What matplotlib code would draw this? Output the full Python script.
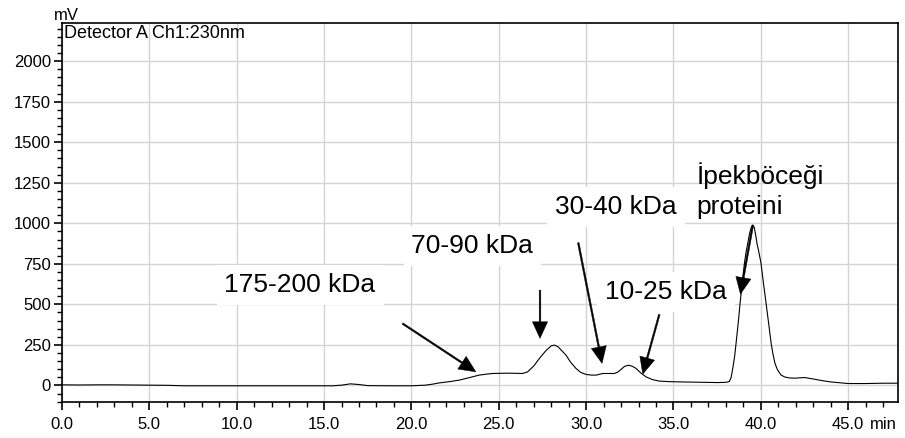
import matplotlib.pyplot as plt
from matplotlib.ticker import MultipleLocator, FixedLocator
import matplotlib.transforms as mtransforms

plt.rcParams['font.family'] = ['Liberation Sans', 'DejaVu Sans']

# chromatogram (time in min, signal in mV)
time = [0.0, 1.0, 2.0, 3.0, 4.0, 5.0, 6.0, 7.0, 8.0, 10.0, 12.0, 14.0, 15.5,
        16.0, 16.5, 17.0, 17.5, 19.0, 20.0, 20.8, 21.2, 21.6, 22.2, 22.74,
        23.3, 23.88, 24.3, 24.65, 25.5, 26.36, 26.65, 27.0, 27.32, 27.7,
        28.0, 28.18, 28.4, 28.6, 28.85, 29.1, 29.42, 29.7, 30.0, 30.3,
        30.57, 30.8, 30.95, 31.3, 31.62, 31.8, 32.0, 32.2, 32.43, 32.65,
        32.86, 33.1, 33.43, 33.8, 34.19, 34.7, 35.34, 36.5, 37.5, 37.9,
        38.1, 38.2, 38.3, 38.4, 38.5, 38.58, 38.7, 38.81, 38.93, 39.06,
        39.15, 39.25, 39.35, 39.45, 39.54, 39.62, 39.7, 39.78, 39.9, 40.01,
        40.15, 40.3, 40.45, 40.59, 40.7, 40.8, 40.9, 40.97, 41.15, 41.35,
        41.6, 41.9, 42.2, 42.5, 43.0, 43.5, 44.0, 45.0, 46.0, 47.0, 47.85]
signal = [4, 3, 4, 4, 3, 2, 1, -2, -2, -2, -2, -2, -2,
          2, 10, 6, -1, -2, -2, 2, 8, 16, 24, 33,
          48, 64, 70, 74, 76, 74, 84, 120, 166, 215,
          244, 249, 238, 215, 187, 145, 105, 80, 68, 64,
          64, 70, 74, 74, 74, 82, 99, 118, 125, 118,
          105, 80, 53, 36, 27, 24, 22, 20, 18, 19,
          21, 25, 50, 110, 180, 259, 380, 506, 630, 753,
          820, 876, 935, 975, 989, 975, 930, 876, 815, 753,
          630, 506, 380, 259, 190, 140, 110, 94, 65, 53,
          47, 45, 47, 49, 40, 30, 22, 12, 12, 14, 14]

# annotations: text position (baseline) and arrow start / tip
labels = ['175-200 kDa', '70-90 kDa', '30-40 kDa', '10-25 kDa']
label_x = [9.3, 20.0, 28.24, 31.1]
label_y = [578, 818, 1055, 531]
peak_name = ['İpekböceği', 'proteini']
peak_name_x = [36.3, 36.3]
peak_name_y = [1242, 1057]

arrow_from = [(19.49, 382), (27.36, 588), (29.55, 880), (34.19, 438), (39.54, 989)]
arrow_to = [(23.69, 84), (27.36, 290), (30.91, 136), (33.24, 70), (38.83, 563)]

xticks = [0, 5, 10, 15, 20, 25, 30, 35, 40, 45]
xtick_labels = ['0.0', '5.0', '10.0', '15.0', '20.0', '25.0', '30.0', '35.0', '40.0', '45.0']

fig = plt.figure(figsize=(9.05, 4.38), dpi=100)
ax = fig.add_axes([62 / 905, 36.3 / 438, 836 / 905, 378.7 / 438])

ax.plot(time, signal, color='black', lw=0.8, zorder=2)

ax.set_xlim(0, 47.85)
ax.set_ylim(-100, 2235)

ax.xaxis.set_major_locator(FixedLocator(xticks))
ax.set_xticklabels(xtick_labels)
ax.xaxis.set_minor_locator(MultipleLocator(1))
ax.yaxis.set_major_locator(MultipleLocator(250))
ax.yaxis.set_minor_locator(MultipleLocator(50))
ax.set_yticks(range(0, 2001, 250))

ax.tick_params(which='major', direction='out', length=6, width=1.2, labelsize=12, colors='black')
ax.tick_params(axis='x', which='major', pad=5)
ax.tick_params(axis='y', which='major', pad=2)
ax.tick_params(which='minor', direction='out', length=3.5, width=1.0)
for s in ax.spines.values():
    s.set_linewidth(1.2)

ax.set_axisbelow(True)
ax.grid(True, which='major', color='#d4d4d4', lw=1.0)

# "min" after last x label
trans = mtransforms.offset_copy(ax.transAxes, fig=fig, x=0, y=-11, units='points')
ax.text(0.999, 0.0, 'min', transform=trans, ha='right', va='top', fontsize=12)

fig.text(66 / 905, 1 - 15 / 438, 'mV', ha='center', va='center', fontsize=12)
ax.text(0.002, 0.995, 'Detector A Ch1:230nm', transform=ax.transAxes,
        ha='left', va='top', fontsize=13)

box = dict(boxstyle='square,pad=0.3', fc='white', ec='none')
for lab, lx, ly in zip(labels, label_x, label_y):
    ax.text(lx, ly, lab, fontsize=19, ha='left', va='baseline', bbox=box, zorder=3)
for lab, lx, ly in zip(peak_name, peak_name_x, peak_name_y):
    ax.text(lx, ly, lab, fontsize=19, ha='left', va='baseline', zorder=3)

for (x0, y0), (x1, y1) in zip(arrow_from, arrow_to):
    ax.annotate('', xy=(x1, y1), xytext=(x0, y0), zorder=4,
                arrowprops=dict(facecolor='black', edgecolor='black', lw=0.3,
                                width=1.2, headwidth=11, headlength=12, shrink=0))

fig.savefig('out.png', dpi=100)
